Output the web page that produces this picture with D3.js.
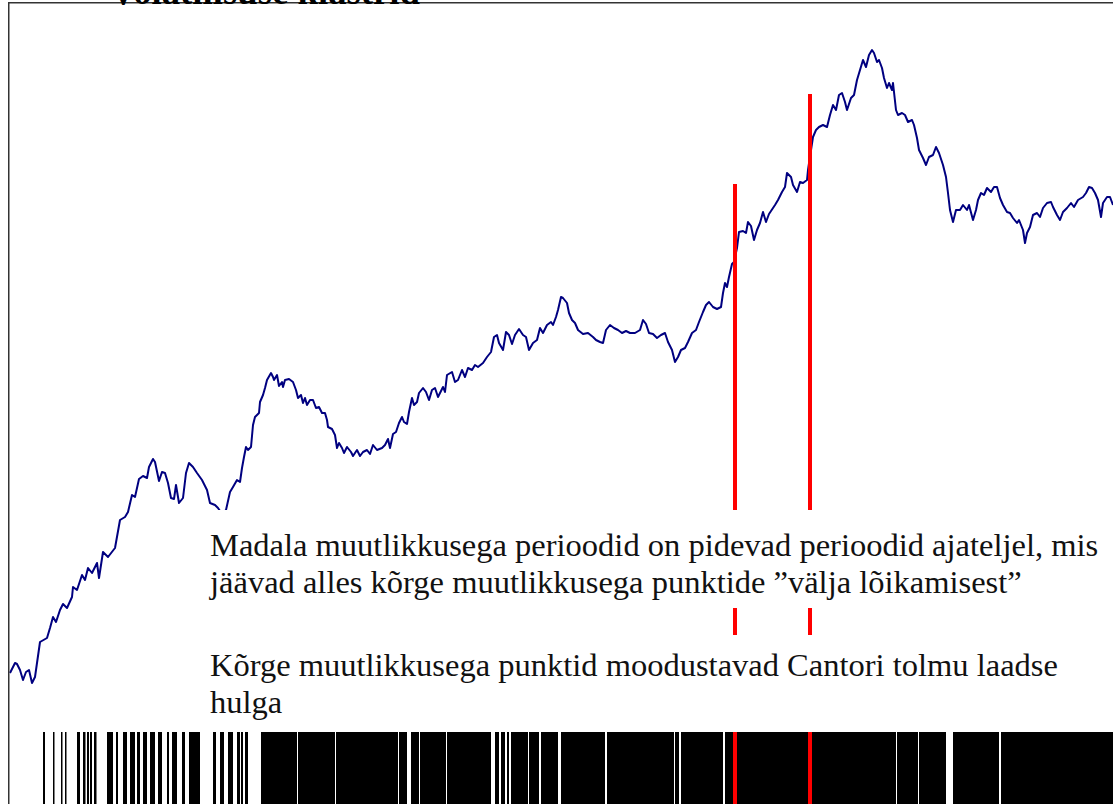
<!DOCTYPE html>
<html lang="et">
<head>
<meta charset="utf-8">
<script src="https://cdn.jsdelivr.net/npm/d3@7"></script>
<style>
  html, body { margin: 0; padding: 0; background: #fff; overflow: hidden; }
  svg { display: block; }
</style>
</head>
<body>
<svg id="chart" width="1113" height="804"></svg>
<script>
// Price index over time (trading day, index level)
const days = [0,5,7,10,13,16,19,22,25,27,30,37,40,43,46,50,53,57,62,63,67,72,75,78,82,87,89,93,98,105,110,115,118,122,125,129,133,137,139,143,145,149,152,155,158,161,164,166,169,173,176,179,183,187,192,197,200,205,208,212,216,220,223,227,230,232,234,236,238,241,243,245,249,250,253,255,257,261,263,264,267,269,272,273,275,279,283,286,288,291,293,295,297,300,303,306,309,312,315,317,318,322,325,327,329,332,334,337,341,343,347,350,353,357,360,363,367,372,375,378,380,383,386,389,392,394,397,399,402,404,407,409,413,416,419,422,425,428,433,435,437,442,445,448,452,455,458,462,465,468,473,477,481,484,487,489,493,496,499,502,505,509,513,516,519,523,527,530,533,537,541,543,546,548,551,553,557,559,562,565,568,573,578,583,586,590,593,596,600,604,608,612,616,620,625,630,633,636,639,643,647,651,655,658,662,665,668,671,675,678,682,686,689,693,696,699,703,707,711,713,715,717,719,722,724,727,729,733,736,738,741,744,747,750,753,756,759,763,765,768,772,775,777,781,783,787,790,793,797,798,801,803,806,809,813,817,820,823,826,829,832,835,837,841,844,847,850,853,856,859,862,864,867,869,872,874,877,879,882,883,886,888,892,895,898,902,904,907,909,913,916,919,923,926,929,933,936,938,940,943,946,950,953,957,959,963,966,968,971,974,977,981,984,987,990,993,997,1000,1003,1007,1009,1013,1015,1017,1020,1023,1027,1030,1033,1037,1041,1043,1047,1050,1053,1057,1061,1064,1068,1073,1076,1079,1082,1085,1088,1091,1093,1097,1100,1103];
const level = [27,37,36,30,20,28,30,17,23,37,58,62,72,83,78,90,96,92,103,113,110,125,120,132,127,137,122,148,143,152,180,183,188,205,203,221,224,222,233,241,238,219,228,227,217,202,201,215,197,202,227,237,233,227,220,210,197,195,192,186,190,208,213,220,218,232,243,253,250,253,275,283,287,298,305,312,320,327,323,320,325,314,318,313,320,321,318,310,302,305,297,302,295,300,300,292,293,287,287,280,273,271,265,252,257,252,247,253,248,244,250,244,248,250,246,255,250,252,255,261,252,266,268,277,283,278,276,288,302,295,298,307,312,308,300,310,312,303,313,308,325,328,318,320,330,323,332,330,335,333,337,343,348,363,365,357,350,368,365,356,365,371,365,363,350,357,360,372,367,375,378,375,383,390,403,402,397,387,380,377,370,366,367,363,360,358,357,370,375,372,370,367,369,367,367,370,380,376,367,366,362,365,367,358,350,338,343,350,352,358,367,370,378,388,395,398,393,391,393,407,417,413,423,436,438,452,468,469,467,478,474,460,470,477,488,478,486,492,495,500,508,513,527,523,515,508,518,517,520,530,550,563,570,573,575,573,585,595,590,605,607,598,590,602,605,620,630,640,633,645,650,647,638,640,632,622,612,617,610,617,590,585,587,585,578,580,575,562,550,542,535,543,545,553,547,535,523,507,490,478,490,490,495,490,495,480,490,500,507,505,512,508,513,513,502,495,488,487,482,477,480,470,457,467,473,485,487,483,492,497,498,493,485,480,488,492,497,493,500,503,507,513,512,507,500,483,497,503,503,495];

// Days on which volatility exceeded the threshold: [start, end]
const spikeStart = [33,43,51,55,67,73,77,80,84,97,106,113,120,127,133,140,148,157,162,172,179,203,210,218,227,231,235,251,288,326,389,401,410,437,485,491,497,501,519,531,551,597,665,671,715,887,909,943,991];
const spikeEnd   = [35,44.5,52.5,56.5,70,75.5,79,82,86.5,103,108,117,125,130,137,145,152,159,167,175,190,206,214,223,230,233,238,287,325,388,397,409,436,481,489,495,499,518,529,548,595,664,669,713,886,908,936,989,1110];

// Break dates and the index level where each marker starts
const breakDays = [725, 800];
const breakTop  = [516, 606];

const titleText = "Volatiilsuse klastrid";
const noteLow  = ["Madala muutlikkusega perioodid on pidevad perioodid ajateljel, mis",
                  "jäävad alles kõrge muutlikkusega punktide ”välja lõikamisest”"];
const noteHigh = ["Kõrge muutlikkusega punktid moodustavad Cantori tolmu laadse",
                  "hulga"];

const W = 1113, H = 804;
const svg = d3.select("#chart");

const x = d3.scaleLinear().domain([0, 1103]).range([10, 1113]);
const y = d3.scaleLinear().domain([0, 650]).range([700, 50]);

// price path
const series = days.map((d, i) => ({ t: d, v: level[i] }));
svg.append("path")
  .datum(series)
  .attr("fill", "none")
  .attr("stroke", "#000080")
  .attr("stroke-width", 2)
  .attr("stroke-linejoin", "round")
  .attr("d", d3.line().x(d => x(d.t)).y(d => y(d.v)));

// high-volatility set drawn as a strip of bars
const spikes = spikeStart.map((s, i) => ({ s, e: spikeEnd[i] }));
svg.append("g")
  .selectAll("rect")
  .data(spikes)
  .join("rect")
  .attr("x", d => x(d.s))
  .attr("width", d => x(d.e) - x(d.s))
  .attr("y", 732)
  .attr("height", H - 732)
  .attr("fill", "#000");

// break markers
svg.append("g")
  .selectAll("line")
  .data(breakDays.map((d, i) => ({ t: d, top: breakTop[i] })))
  .join("line")
  .attr("x1", d => x(d.t)).attr("x2", d => x(d.t))
  .attr("y1", d => y(d.top)).attr("y2", H)
  .attr("stroke", "#ff0000")
  .attr("stroke-width", 4);

// annotation panels
function note(lines, top, bottom, firstBaseline) {
  svg.append("rect")
    .attr("x", 200).attr("y", top)
    .attr("width", W - 200).attr("height", bottom - top)
    .attr("fill", "#fff");
  const t = svg.append("text")
    .attr("font-family", "'Liberation Serif', 'Times New Roman', serif")
    .attr("font-size", 32.5)
    .attr("fill", "#111");
  lines.forEach((s, i) => {
    t.append("tspan").attr("x", 210).attr("y", firstBaseline + i * 37).text(s);
  });
}
note(noteLow, 510, 608, 556);
note(noteHigh, 635, 732, 676);

// frame
svg.append("path")
  .attr("d", `M8.75,${H} V2.75 H${W}`)
  .attr("fill", "none")
  .attr("stroke", "#333")
  .attr("stroke-width", 1.5);

// heading, running off the top of the panel
svg.append("text")
  .attr("x", 110).attr("y", 4)
  .attr("font-family", "'Liberation Serif', 'Times New Roman', serif")
  .attr("font-weight", "bold")
  .attr("font-size", 40)
  .attr("textLength", 310)
  .attr("lengthAdjust", "spacingAndGlyphs")
  .attr("fill", "#000")
  .text(titleText);
</script>
</body>
</html>
